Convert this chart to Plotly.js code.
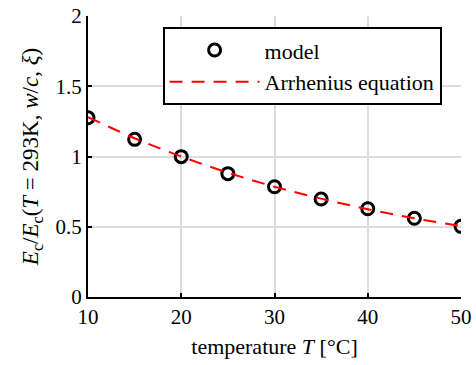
<!DOCTYPE html>
<html><head><meta charset="utf-8">
<script src="https://cdn.plot.ly/plotly-3.0.1.min.js"></script>
<style>html,body{margin:0;padding:0;background:#fff}</style>
</head><body><div id="chart" style="width:476px;height:365px"></div>
<script>
const temperature = [10, 15, 20, 25, 30, 35, 40, 45, 50];
const modelValues = [1.276, 1.122, 0.999, 0.878, 0.785, 0.697, 0.628, 0.560, 0.503];
const arrheniusT = [10, 15, 20, 25, 30, 35, 40, 45, 50];
const arrheniusValues = [1.28, 1.13, 1.0, 0.885, 0.785, 0.70, 0.625, 0.56, 0.505];
const xTicks = [10, 20, 30, 40, 50];
const yTicks = [0, 0.5, 1, 1.5, 2];

const FAM = "'Liberation Serif', 'Times New Roman', Times, 'DejaVu Serif', serif";
function f(size) { return {family: FAM, size: size, color: "#000"}; }
const traces = [
  {x: temperature, y: modelValues, name: "model", mode: "markers", type: "scatter",
   marker: {symbol: "circle-open", size: 12, color: "#000", line: {width: 3, color: "#000"}}},
  {x: arrheniusT, y: arrheniusValues, name: "Arrhenius equation", mode: "lines", type: "scatter",
   line: {shape: "spline", color: "#ff0000", width: 2, dash: "13px,9px"}}
];
const layout = {
  width: 476, height: 365,
  margin: {l: 88, r: 15, t: 16, b: 68},
  paper_bgcolor: "#fff", plot_bgcolor: "#fff",
  font: f(21),
  showlegend: true,
  legend: {x: 0.2, y: 0.96, xanchor: "left", yanchor: "top", bgcolor: "#fff",
    bordercolor: "#000", borderwidth: 2, itemwidth: 90, font: f(22), tracegroupgap: 0},
  xaxis: {range: [10, 50], tickvals: xTicks, ticktext: xTicks.map(String), tickfont: f(21),
    showgrid: true, gridcolor: "#dcdcdc", gridwidth: 2, zeroline: false,
    showline: true, linecolor: "#000", linewidth: 2,
    ticks: "inside", ticklen: 4, tickwidth: 2, tickcolor: "#000",
    title: {text: "temperature <i>T</i> [°C]", font: f(22), standoff: 10}},
  yaxis: {range: [0, 2], tickvals: yTicks, ticktext: yTicks.map(String), tickfont: f(21),
    showgrid: true, gridcolor: "#dcdcdc", gridwidth: 2, zeroline: false,
    showline: true, linecolor: "#000", linewidth: 2,
    ticks: "inside", ticklen: 4, tickwidth: 2, tickcolor: "#000",
    title: {text: "<i>E</i><sub>c</sub>/<i>E</i><sub>c</sub>(<i>T</i> = 293K, <i>w</i>/<i>c</i>, <i>ξ</i>)", font: f(23), standoff: 10}}
};
Plotly.newPlot("chart", traces, layout, {displayModeBar: false, staticPlot: true});
</script></body></html>
